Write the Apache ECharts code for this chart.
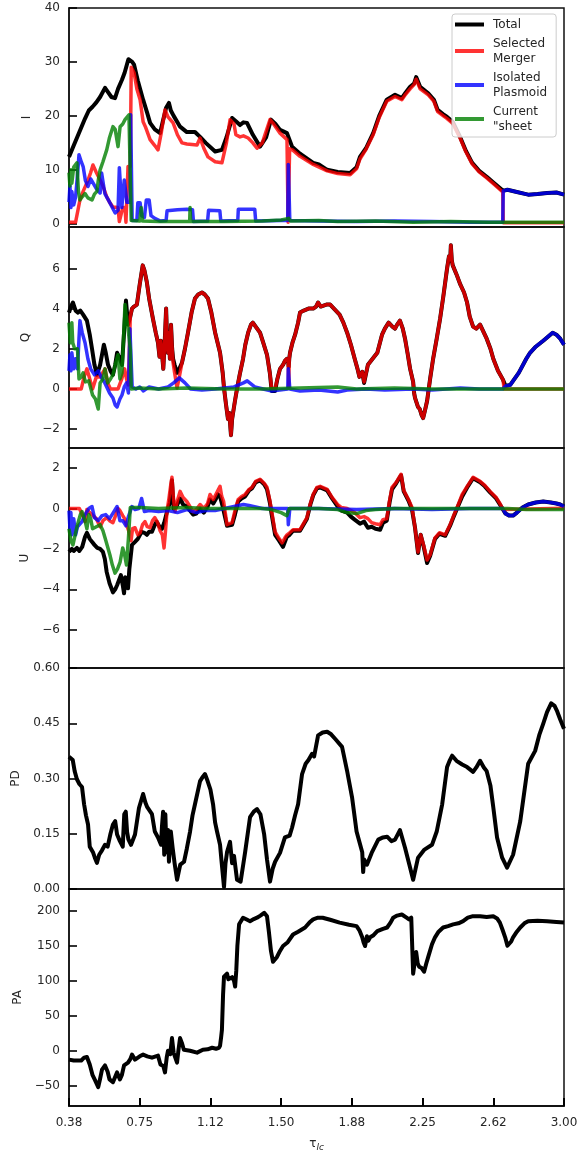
<!DOCTYPE html>
<html><head><meta charset="utf-8">
<script src="https://cdn.jsdelivr.net/npm/echarts@6/dist/echarts.min.js"></script>
<style>html,body{margin:0;padding:0;background:#fff}#c{width:587px;height:1153px}</style>
</head><body><div id="c"></div>
<script>
// ---- data: [tau, value] pairs ----
const xTickLabels = ['0.38','0.75','1.12','1.50','1.88','2.25','2.62','3.00'];
const xTickValues = [0.375,0.75,1.125,1.5,1.875,2.25,2.625,3.0];
const panelNames = ['I','Q','U','PD','PA'];
const seriesNames = ['Total','Selected\nMerger','Isolated\nPlasmoid','Current\n"sheet'];
const I_ticks = [0,10,20,30,40];
const Q_ticks = [-2,0,2,4,6];
const U_ticks = [-6,-4,-2,0,2];
const PD_ticks = [0,0.15,0.30,0.45,0.60];
const PA_ticks = [-50,0,50,100,150,200];

const I_total = [[0.375,12.4],[0.40,14.5],[0.43,17],[0.46,19.5],[0.48,21],[0.50,21.7],[0.52,22.5],[0.54,23.5],[0.566,25.2],[0.58,24.5],[0.60,23.5],[0.619,23.3],[0.635,25],[0.656,26.7],[0.67,28],[0.69,30.5],[0.70,30.8],[0.71,30],[0.72,29.5],[0.74,26.5],[0.768,23],[0.79,20.5],[0.805,18.7],[0.83,17.5],[0.858,16.8],[0.874,19.2],[0.89,21.5],[0.905,22.4],[0.915,21],[0.93,20],[0.964,18],[1.0,17],[1.043,17],[1.07,16.1],[1.10,15],[1.15,13.4],[1.186,13.7],[1.21,16],[1.24,19.6],[1.26,19],[1.282,18.3],[1.30,18.8],[1.319,18.7],[1.35,16.5],[1.388,14.3],[1.42,16],[1.446,19.3],[1.47,18.5],[1.494,17.4],[1.531,16.8],[1.558,14.3],[1.60,13],[1.67,11.3],[1.70,11],[1.744,10],[1.80,9.6],[1.866,9.4],[1.90,10.5],[1.918,12.4],[1.95,14],[1.988,16.8],[2.02,20],[2.06,23],[2.104,23.9],[2.14,23.3],[2.16,24.3],[2.184,25.4],[2.205,26],[2.216,27.2],[2.237,25.4],[2.28,24.2],[2.31,23],[2.33,21.1],[2.36,20.3],[2.38,19.8],[2.41,18.9],[2.45,16],[2.48,13.5],[2.513,11.3],[2.55,9.8],[2.59,8.7],[2.63,7.5],[2.677,6.1],[2.70,6.3],[2.75,5.9],[2.81,5.4],[2.86,5.5],[2.91,5.7],[2.96,5.8],[3.0,5.4]];
const I_merger = [[0.375,0.3],[0.41,0.3],[0.433,4.4],[0.45,6],[0.476,8.1],[0.49,9.5],[0.502,10.9],[0.52,9.5],[0.54,8.1],[0.555,7],[0.575,5],[0.59,4],[0.608,3.1],[0.635,3],[0.642,0.4],[0.652,0.4],[0.66,3],[0.672,3],[0.677,0.3],[0.684,0.3],[0.688,10.6],[0.70,10.6],[0.705,29],[0.72,28],[0.735,25],[0.752,23],[0.768,18.9],[0.78,18],[0.805,15.6],[0.83,14.5],[0.847,13.7],[0.865,17],[0.884,21.1],[0.90,19.8],[0.927,18.7],[0.95,16.5],[0.974,15],[1.0,14.8],[1.054,14.6],[1.07,15.9],[1.09,14],[1.112,12.4],[1.15,11.5],[1.186,11.3],[1.21,15],[1.229,19.3],[1.25,18.5],[1.26,16.5],[1.282,16.1],[1.30,16.3],[1.325,15.9],[1.35,15],[1.372,14],[1.40,15],[1.441,19.3],[1.46,18.5],[1.494,16.8],[1.531,15.6],[1.537,0.3],[1.541,0.3],[1.545,13.9],[1.56,13.7],[1.60,12.5],[1.67,11],[1.744,9.8],[1.80,9.3],[1.866,9.1],[1.90,10.2],[1.918,12],[1.95,13.8],[1.988,16.5],[2.02,19.7],[2.06,22.7],[2.104,23.6],[2.14,23],[2.16,24],[2.184,25],[2.205,25.8],[2.216,26.8],[2.237,25],[2.28,23.9],[2.31,22.7],[2.33,20.8],[2.36,20],[2.38,19.5],[2.41,18.6],[2.45,15.8],[2.48,13.3],[2.513,11.1],[2.55,9.6],[2.59,8.5],[2.63,7.3],[2.675,5.9],[2.678,0.2],[3.0,0.2]];
const I_plasmoid = [[0.375,4],[0.38,7],[0.385,3],[0.39,6],[0.40,3.5],[0.41,5],[0.42,9],[0.428,12.8],[0.44,11.5],[0.45,10.6],[0.462,8],[0.476,6.9],[0.49,8.3],[0.50,8],[0.52,6.5],[0.54,5.7],[0.548,9.4],[0.555,9.4],[0.565,5.6],[0.575,5.6],[0.59,4],[0.605,3],[0.62,2],[0.635,2.5],[0.642,10.4],[0.65,10.4],[0.655,3],[0.665,3],[0.668,8.1],[0.676,8.1],[0.682,4],[0.70,4],[0.702,20.2],[0.707,20.2],[0.71,0.6],[0.735,0.6],[0.74,3.9],[0.752,3.9],[0.76,1.5],[0.775,1.2],[0.785,4.4],[0.80,4.4],[0.81,1.5],[0.83,1.0],[0.86,0.5],[0.89,0.6],[0.895,2.4],[0.95,2.6],[1.00,2.7],[1.03,2.6],[1.035,0.4],[1.11,0.5],[1.115,2.5],[1.175,2.4],[1.18,0.5],[1.27,0.6],[1.273,2.7],[1.36,2.7],[1.365,0.5],[1.50,0.6],[1.535,0.6],[1.538,11],[1.543,11],[1.546,0.6],[1.70,0.5],[1.90,0.4],[2.10,0.5],[2.30,0.4],[2.50,0.3],[2.675,0.3],[2.678,6.1],[2.70,6.3],[2.75,5.9],[2.81,5.4],[2.86,5.5],[2.91,5.7],[2.96,5.8],[3.0,5.4]];
const I_sheet = [[0.375,9.5],[0.38,7],[0.385,10],[0.39,7.5],[0.40,10.5],[0.417,11.3],[0.425,6],[0.433,4.4],[0.445,5],[0.46,5.6],[0.475,4.8],[0.497,4.4],[0.51,5.5],[0.523,6],[0.53,8],[0.54,10],[0.555,11.5],[0.575,13.7],[0.59,16],[0.608,18],[0.62,17.5],[0.635,14.3],[0.646,18],[0.66,18.5],[0.672,19.3],[0.693,20.2],[0.70,20],[0.705,0.6],[0.75,0.5],[0.758,3],[0.765,0.5],[0.85,0.4],[1.0,0.4],[1.015,0.4],[1.017,3],[1.02,0.4],[1.20,0.4],[1.40,0.5],[1.50,0.7],[1.54,1.0],[1.55,0.5],[1.70,0.6],[1.80,0.4],[2.0,0.5],[2.2,0.3],[2.4,0.4],[2.6,0.3],[2.8,0.3],[3.0,0.3]];

const Q_total = [[0.375,3.8],[0.385,4.1],[0.396,4.3],[0.41,3.9],[0.423,3.8],[0.435,3.9],[0.45,3.7],[0.47,3.4],[0.485,2.7],[0.497,2.0],[0.51,1.2],[0.523,0.7],[0.54,1.2],[0.56,2.2],[0.57,1.8],[0.582,1.2],[0.595,0.9],[0.608,0.7],[0.62,1.2],[0.63,1.8],[0.645,1.5],[0.656,1.2],[0.665,2.5],[0.677,4.4],[0.688,3.2],[0.70,3.6],[0.709,4.0],[0.72,4.1],[0.735,4.2],[0.75,5.2],[0.766,6.15],[0.775,5.9],[0.788,5.3],[0.80,4.5],[0.82,3.5],[0.835,2.8],[0.847,2.3],[0.855,1.6],[0.862,2.4],[0.868,1.8],[0.875,1.0],[0.882,2.2],[0.89,4.0],[0.895,2.5],[0.90,1.8],[0.905,2.8],[0.91,1.5],[0.916,3.2],[0.922,2.0],[0.927,1.5],[0.935,1.2],[0.948,0.8],[0.96,1.0],[0.974,1.3],[0.99,2.0],[1.006,2.8],[1.025,3.8],[1.043,4.5],[1.06,4.7],[1.08,4.8],[1.095,4.7],[1.112,4.5],[1.13,3.8],[1.14,3.3],[1.15,2.8],[1.163,2.3],[1.176,1.8],[1.19,0.8],[1.197,0.05],[1.208,-0.8],[1.218,-1.5],[1.225,-1.2],[1.234,-2.3],[1.24,-1.5],[1.245,-1.2],[1.255,-0.6],[1.266,0],[1.28,0.7],[1.298,1.5],[1.31,2.2],[1.325,2.8],[1.34,3.2],[1.35,3.3],[1.365,3.1],[1.388,2.8],[1.405,2.3],[1.425,1.7],[1.44,0.8],[1.45,-0.1],[1.468,-0.1],[1.48,0.5],[1.494,1.0],[1.51,1.2],[1.52,1.4],[1.53,1.5],[1.537,1.4],[1.54,1.1],[1.543,1.5],[1.547,1.8],[1.56,2.3],[1.574,2.7],[1.59,3.3],[1.60,3.8],[1.62,3.9],[1.645,4.0],[1.67,4.0],[1.685,4.1],[1.696,4.3],[1.71,4.1],[1.72,4.1],[1.74,4.2],[1.76,4.2],[1.785,3.95],[1.81,3.7],[1.83,3.3],[1.85,2.8],[1.87,2.2],[1.89,1.5],[1.905,1.0],[1.915,0.6],[1.93,0.85],[1.94,0.3],[1.96,1.2],[1.985,1.5],[2.01,1.8],[2.035,2.7],[2.05,3.0],[2.07,3.3],[2.09,3.1],[2.104,3.0],[2.115,3.2],[2.13,3.4],[2.145,3.0],[2.157,2.5],[2.17,1.8],[2.184,1.0],[2.2,0.35],[2.205,-0.2],[2.21,-0.45],[2.218,-0.5],[2.226,-0.9],[2.235,-1.0],[2.245,-1.3],[2.253,-1.45],[2.262,-1.1],[2.274,-0.6],[2.29,0.5],[2.306,1.5],[2.325,2.5],[2.343,3.5],[2.36,4.6],[2.38,6.0],[2.39,6.6],[2.397,6.5],[2.4,7.15],[2.405,6.4],[2.41,6.15],[2.43,5.7],[2.45,5.2],[2.47,4.8],[2.486,4.3],[2.50,3.6],[2.518,3.1],[2.535,3.0],[2.555,3.2],[2.57,2.9],[2.59,2.5],[2.61,2.0],[2.625,1.5],[2.65,0.9],[2.677,0.45],[2.69,0.15],[2.70,0.1],[2.715,0.2],[2.76,0.8],[2.80,1.5],[2.82,1.8],[2.85,2.1],[2.89,2.4],[2.915,2.6],[2.94,2.8],[2.96,2.7],[2.98,2.5],[3.0,2.2]];
const Q_merger = [[0.375,0],[0.44,0],[0.455,0.6],[0.47,1.0],[0.485,0.5],[0.50,0],[0.52,0.6],[0.54,0.6],[0.566,1.0],[0.58,0.3],[0.595,0],[0.635,0],[0.655,0.5],[0.67,1.0],[0.68,0.5],[0.69,0.2],[0.70,3.6],[0.709,4.0],[0.72,4.1],[0.735,4.2],[0.75,5.2],[0.766,6.15],[0.775,5.9],[0.788,5.3],[0.80,4.5],[0.82,3.5],[0.835,2.8],[0.847,2.3],[0.855,1.6],[0.862,2.4],[0.868,1.8],[0.875,1.0],[0.882,2.2],[0.89,4.0],[0.895,2.5],[0.90,1.8],[0.905,2.8],[0.91,1.5],[0.916,3.2],[0.922,2.0],[0.927,1.3],[0.935,0.8],[0.948,0.05],[0.96,0.6],[0.974,1.3],[0.99,2.0],[1.006,2.8],[1.025,3.8],[1.043,4.5],[1.06,4.7],[1.08,4.8],[1.095,4.7],[1.112,4.5],[1.13,3.8],[1.14,3.3],[1.15,2.8],[1.163,2.3],[1.176,1.8],[1.19,0.8],[1.197,0.05],[1.208,-0.8],[1.218,-1.5],[1.225,-1.2],[1.234,-2.3],[1.24,-1.5],[1.245,-1.2],[1.255,-0.6],[1.266,0],[1.28,0.7],[1.298,1.5],[1.31,2.2],[1.325,2.8],[1.34,3.2],[1.35,3.3],[1.365,3.1],[1.388,2.8],[1.405,2.3],[1.425,1.7],[1.44,0.8],[1.45,0],[1.468,0],[1.48,0.5],[1.494,1.0],[1.51,1.2],[1.52,1.4],[1.53,1.5],[1.537,1.4],[1.54,0.1],[1.543,1.5],[1.547,1.8],[1.56,2.3],[1.574,2.7],[1.59,3.3],[1.60,3.8],[1.62,3.9],[1.645,4.0],[1.67,4.0],[1.685,4.1],[1.696,4.3],[1.71,4.1],[1.72,4.1],[1.74,4.2],[1.76,4.2],[1.785,3.95],[1.81,3.7],[1.83,3.3],[1.85,2.8],[1.87,2.2],[1.89,1.5],[1.905,1.0],[1.915,0.6],[1.93,0.85],[1.94,0.35],[1.96,1.2],[1.985,1.5],[2.01,1.8],[2.035,2.7],[2.05,3.0],[2.07,3.3],[2.09,3.1],[2.104,3.0],[2.115,3.2],[2.13,3.4],[2.145,3.0],[2.157,2.5],[2.17,1.8],[2.184,1.0],[2.2,0.35],[2.205,-0.2],[2.21,-0.45],[2.218,-0.5],[2.226,-0.9],[2.235,-1.0],[2.245,-1.3],[2.253,-1.45],[2.262,-1.1],[2.274,-0.6],[2.29,0.5],[2.306,1.5],[2.325,2.5],[2.343,3.5],[2.36,4.6],[2.38,6.0],[2.39,6.6],[2.397,6.5],[2.4,7.15],[2.405,6.4],[2.41,6.15],[2.43,5.7],[2.45,5.2],[2.47,4.8],[2.486,4.3],[2.50,3.6],[2.518,3.1],[2.535,3.0],[2.555,3.2],[2.57,2.9],[2.59,2.5],[2.61,2.0],[2.625,1.5],[2.65,0.9],[2.677,0.45],[2.682,0],[3.0,0]];
const Q_plasmoid = [[0.375,0.9],[0.38,1.7],[0.385,0.9],[0.39,1.8],[0.40,1.0],[0.41,1.5],[0.42,1.0],[0.428,2.5],[0.433,3.4],[0.445,2.8],[0.46,2.3],[0.475,1.5],[0.49,1.0],[0.51,0.7],[0.53,0.9],[0.545,0.6],[0.56,0.4],[0.575,0.1],[0.59,-0.2],[0.608,-0.45],[0.62,-0.8],[0.63,-0.9],[0.645,-0.5],[0.656,-0.3],[0.668,0.1],[0.68,0.3],[0.69,-0.2],[0.698,3.0],[0.704,3.0],[0.71,0.1],[0.73,0.0],[0.75,0.1],[0.77,-0.1],[0.80,0.1],[0.85,0.0],[0.90,0.1],[0.93,0.3],[0.96,0.55],[0.99,0.3],[1.02,0.0],[1.08,-0.05],[1.15,0.0],[1.25,0.1],[1.30,0.3],[1.32,0.4],[1.36,0.1],[1.45,-0.1],[1.535,0],[1.538,1.0],[1.543,1.0],[1.546,0],[1.60,-0.1],[1.70,-0.05],[1.80,-0.15],[1.85,-0.05],[1.95,0],[2.05,-0.05],[2.2,0],[2.3,-0.05],[2.45,0.05],[2.55,0],[2.675,0],[2.69,0.15],[2.70,0.1],[2.715,0.2],[2.76,0.8],[2.80,1.5],[2.82,1.8],[2.85,2.1],[2.89,2.4],[2.915,2.6],[2.94,2.8],[2.96,2.7],[2.98,2.5],[3.0,2.2]];
const Q_sheet = [[0.375,3.3],[0.382,2.3],[0.39,3.3],[0.395,2.3],[0.405,2.0],[0.42,2.0],[0.428,0.5],[0.44,0.6],[0.45,0.8],[0.462,0.35],[0.48,0.4],[0.50,-0.3],[0.515,-0.5],[0.53,-1.0],[0.54,0.3],[0.555,0.5],[0.566,1.0],[0.58,0.3],[0.595,0.5],[0.608,0.7],[0.62,1.2],[0.635,1.7],[0.645,0.5],[0.656,0.8],[0.672,4.2],[0.68,3.5],[0.688,3.0],[0.70,2.0],[0.705,0.0],[0.75,0.05],[0.85,0],[1.0,0.05],[1.2,0],[1.4,0],[1.6,0.05],[1.8,0.1],[1.9,0],[2.1,0.05],[2.3,0],[2.5,0],[2.7,0],[3.0,0]];

const U_total = [[0.375,-2.15],[0.39,-2.0],[0.40,-2.1],[0.417,-1.95],[0.43,-2.1],[0.445,-1.9],[0.46,-1.4],[0.47,-1.2],[0.485,-1.5],[0.497,-1.65],[0.51,-1.8],[0.525,-1.95],[0.54,-2.0],[0.555,-2.15],[0.565,-2.5],[0.575,-3.15],[0.59,-3.7],[0.608,-4.15],[0.62,-4.0],[0.63,-3.8],[0.65,-3.3],[0.66,-3.8],[0.667,-4.2],[0.673,-3.4],[0.68,-3.6],[0.688,-3.95],[0.695,-3.0],[0.709,-1.8],[0.725,-1.65],[0.74,-1.5],[0.76,-1.15],[0.775,-1.2],[0.788,-1.3],[0.80,-1.15],[0.815,-1.15],[0.83,-0.8],[0.84,-0.65],[0.855,-0.9],[0.868,-1.0],[0.88,-0.7],[0.895,-0.15],[0.91,0.3],[0.921,1.4],[0.93,0.0],[0.945,0.1],[0.964,0.5],[0.98,0.2],[1.0,0.1],[1.033,-0.3],[1.05,-0.25],[1.07,0.0],[1.09,-0.2],[1.11,0.1],[1.123,0.45],[1.14,0.25],[1.155,0.5],[1.165,0.7],[1.176,0.6],[1.19,0.1],[1.213,-0.85],[1.24,-0.8],[1.255,-0.3],[1.272,0.35],[1.29,0.5],[1.309,0.6],[1.33,0.9],[1.345,1.0],[1.365,1.3],[1.388,1.4],[1.41,1.2],[1.425,0.95],[1.44,0.3],[1.45,-0.3],[1.468,-1.3],[1.49,-1.6],[1.51,-1.9],[1.53,-1.4],[1.545,-1.3],[1.563,-1.1],[1.6,-1.1],[1.637,-0.5],[1.655,0.2],[1.67,0.65],[1.69,1.0],[1.707,1.05],[1.744,0.9],[1.77,0.5],[1.80,0.1],[1.82,-0.1],[1.85,-0.2],[1.87,-0.4],[1.89,-0.55],[1.918,-0.75],[1.94,-0.65],[1.96,-0.95],[1.98,-0.9],[2.0,-1.0],[2.025,-1.05],[2.04,-0.7],[2.06,-0.6],[2.075,0.3],[2.088,0.95],[2.11,1.25],[2.136,1.65],[2.15,0.85],[2.175,0.4],[2.194,-0.05],[2.21,-0.95],[2.226,-2.2],[2.24,-1.3],[2.255,-1.85],[2.274,-2.7],[2.29,-2.35],[2.316,-1.5],[2.34,-1.25],[2.37,-1.35],[2.396,-0.85],[2.415,-0.4],[2.433,0.0],[2.46,0.6],[2.49,1.1],[2.518,1.5],[2.555,1.3],[2.58,1.1],[2.608,0.8],[2.64,0.5],[2.66,0.2],[2.677,-0.05],[2.69,-0.25],[2.71,-0.35],[2.73,-0.35],[2.75,-0.2],[2.78,0.05],[2.81,0.2],[2.85,0.3],[2.89,0.35],[2.93,0.3],[2.96,0.25],[2.98,0.2],[3.0,0.1]];
const U_merger = [[0.375,0],[0.43,0],[0.445,-0.3],[0.46,-0.65],[0.47,-0.05],[0.485,-0.2],[0.497,-0.3],[0.52,-0.5],[0.54,-0.9],[0.555,-0.6],[0.575,-0.45],[0.59,-0.6],[0.608,-0.7],[0.62,-0.4],[0.635,0],[0.645,-0.1],[0.66,-0.35],[0.67,-0.5],[0.68,-0.8],[0.695,-1.2],[0.704,-1.6],[0.712,-1.0],[0.725,-0.95],[0.74,-1.3],[0.752,-1.2],[0.765,-0.8],[0.778,-0.65],[0.79,-0.9],[0.805,-0.95],[0.818,-0.6],[0.83,-0.45],[0.845,-0.7],[0.858,-1.1],[0.87,-1.3],[0.879,-1.95],[0.886,-1.2],[0.895,-0.1],[0.905,0.5],[0.915,1.2],[0.921,1.55],[0.928,0.6],[0.937,-0.15],[0.95,0.4],[0.964,0.85],[0.98,0.55],[1.0,0.35],[1.033,-0.15],[1.05,-0.05],[1.07,0.2],[1.09,0.0],[1.11,0.25],[1.123,0.7],[1.14,0.45],[1.15,0.4],[1.165,0.9],[1.176,1.1],[1.185,0.6],[1.195,0.35],[1.213,-0.8],[1.24,-0.7],[1.255,-0.1],[1.272,0.45],[1.29,0.6],[1.309,0.7],[1.33,0.95],[1.345,1.05],[1.365,1.35],[1.388,1.45],[1.41,1.25],[1.425,1.05],[1.44,0.4],[1.45,-0.15],[1.468,-1.15],[1.49,-1.5],[1.505,-1.7],[1.52,-1.45],[1.531,-1.3],[1.545,-1.2],[1.563,-1.05],[1.6,-1.05],[1.637,-0.45],[1.655,0.25],[1.67,0.7],[1.69,1.05],[1.707,1.1],[1.744,0.95],[1.77,0.55],[1.80,0.2],[1.82,0.05],[1.85,0],[1.87,-0.1],[1.89,-0.2],[1.918,-0.45],[1.94,-0.4],[1.96,-0.5],[1.98,-0.7],[2.0,-0.75],[2.025,-0.8],[2.04,-0.55],[2.06,-0.5],[2.075,0.4],[2.088,1.05],[2.11,1.3],[2.136,1.7],[2.15,0.9],[2.175,0.45],[2.194,0.05],[2.21,-0.95],[2.226,-2.15],[2.24,-1.3],[2.255,-1.8],[2.274,-2.55],[2.29,-2.3],[2.316,-1.45],[2.34,-1.2],[2.37,-1.3],[2.396,-0.8],[2.415,-0.35],[2.433,0.05],[2.46,0.7],[2.49,1.15],[2.518,1.55],[2.555,1.35],[2.58,1.15],[2.608,0.85],[2.64,0.55],[2.66,0.25],[2.677,-0.05],[2.682,0.02],[3.0,0.02]];
const U_plasmoid = [[0.375,-0.1],[0.38,-1.0],[0.385,-0.2],[0.39,-1.3],[0.40,-0.5],[0.41,-1.3],[0.42,-0.9],[0.444,-0.65],[0.46,-0.3],[0.48,0.0],[0.497,0.1],[0.51,-0.45],[0.53,-0.6],[0.55,-0.35],[0.57,-0.3],[0.59,-0.5],[0.61,-0.2],[0.63,0.1],[0.645,-0.6],[0.66,-0.6],[0.677,-0.85],[0.69,-0.4],[0.709,0.1],[0.725,-0.05],[0.745,0.0],[0.76,0.5],[0.775,-0.15],[0.80,-0.1],[0.85,-0.15],[0.90,-0.1],[0.95,-0.2],[1.0,-0.05],[1.05,-0.2],[1.1,-0.1],[1.15,-0.1],[1.2,0.0],[1.25,0.1],[1.3,0.2],[1.33,0.15],[1.4,0.0],[1.5,0.0],[1.535,0],[1.538,-0.8],[1.543,-0.8],[1.546,0],[1.7,0.0],[1.9,-0.05],[2.1,0.0],[2.3,-0.05],[2.5,0.0],[2.675,0.0],[2.69,-0.25],[2.71,-0.35],[2.73,-0.35],[2.75,-0.2],[2.78,0.05],[2.81,0.2],[2.85,0.3],[2.89,0.35],[2.93,0.3],[2.96,0.25],[2.98,0.2],[3.0,0.1]];
const U_sheet = [[0.375,-1.0],[0.385,-1.6],[0.396,-1.8],[0.41,-1.2],[0.42,-0.8],[0.435,-0.3],[0.444,-0.15],[0.46,-0.6],[0.47,-1.0],[0.48,-0.3],[0.49,-0.5],[0.50,-1.0],[0.52,-0.9],[0.54,-0.8],[0.555,-1.1],[0.566,-1.45],[0.58,-1.9],[0.592,-2.3],[0.605,-2.8],[0.619,-3.2],[0.632,-3.0],[0.646,-2.65],[0.66,-1.95],[0.67,-2.3],[0.68,-2.8],[0.69,-1.5],[0.70,0.05],[0.75,0.05],[0.85,0.0],[1.0,0.05],[1.1,0.0],[1.2,0.0],[1.3,0.0],[1.4,0.0],[1.45,-0.05],[1.5,-0.2],[1.53,-0.35],[1.54,-0.4],[1.543,0.0],[1.6,0.0],[1.7,0.0],[1.8,-0.05],[1.85,-0.2],[1.9,-0.25],[1.95,-0.1],[2.0,-0.05],[2.1,0.0],[2.3,0.0],[2.5,0.0],[2.7,0.0],[2.8,-0.05],[3.0,-0.05]];

const PD_total = [[0.375,0.359],[0.385,0.355],[0.395,0.35],[0.405,0.32],[0.417,0.298],[0.43,0.285],[0.444,0.277],[0.455,0.23],[0.465,0.2],[0.476,0.175],[0.485,0.115],[0.502,0.1],[0.512,0.085],[0.523,0.071],[0.535,0.093],[0.55,0.105],[0.566,0.12],[0.58,0.115],[0.595,0.15],[0.608,0.175],[0.62,0.184],[0.63,0.148],[0.645,0.13],[0.66,0.115],[0.668,0.203],[0.676,0.21],[0.683,0.155],[0.69,0.135],[0.704,0.12],[0.725,0.148],[0.746,0.22],[0.768,0.258],[0.78,0.235],[0.79,0.222],[0.815,0.203],[0.83,0.156],[0.847,0.14],[0.863,0.12],[0.868,0.17],[0.874,0.21],[0.88,0.093],[0.886,0.203],[0.892,0.1],[0.9,0.16],[0.905,0.074],[0.915,0.156],[0.925,0.11],[0.935,0.07],[0.948,0.025],[0.965,0.066],[0.985,0.074],[1.0,0.11],[1.017,0.156],[1.03,0.2],[1.043,0.23],[1.07,0.293],[1.085,0.305],[1.096,0.312],[1.11,0.293],[1.125,0.27],[1.139,0.23],[1.15,0.18],[1.16,0.156],[1.176,0.12],[1.185,0.07],[1.197,0.005],[1.205,0.07],[1.213,0.1],[1.229,0.128],[1.24,0.07],[1.25,0.09],[1.266,0.025],[1.285,0.02],[1.3,0.07],[1.309,0.1],[1.335,0.195],[1.355,0.21],[1.372,0.217],[1.39,0.203],[1.41,0.148],[1.425,0.08],[1.441,0.02],[1.455,0.055],[1.468,0.074],[1.494,0.098],[1.52,0.14],[1.545,0.145],[1.558,0.167],[1.574,0.2],[1.59,0.23],[1.611,0.312],[1.63,0.34],[1.645,0.35],[1.664,0.367],[1.675,0.36],[1.696,0.417],[1.72,0.425],[1.744,0.427],[1.765,0.42],[1.786,0.408],[1.823,0.386],[1.85,0.32],[1.876,0.249],[1.9,0.156],[1.93,0.1],[1.935,0.046],[1.94,0.08],[1.955,0.066],[1.98,0.098],[2.015,0.134],[2.04,0.14],[2.062,0.142],[2.085,0.13],[2.104,0.134],[2.13,0.16],[2.157,0.112],[2.184,0.058],[2.2,0.025],[2.226,0.085],[2.26,0.107],[2.3,0.12],[2.325,0.156],[2.354,0.23],[2.38,0.331],[2.395,0.35],[2.407,0.362],[2.43,0.348],[2.46,0.338],[2.486,0.331],[2.518,0.318],[2.535,0.33],[2.555,0.348],[2.575,0.33],[2.59,0.32],[2.61,0.28],[2.625,0.222],[2.645,0.14],[2.672,0.085],[2.698,0.058],[2.73,0.093],[2.768,0.184],[2.81,0.34],[2.847,0.375],[2.87,0.42],[2.89,0.449],[2.91,0.48],[2.932,0.504],[2.95,0.497],[2.964,0.482],[2.98,0.46],[3.0,0.435]];
const PA_total = [[0.375,-12.7],[0.40,-14],[0.44,-14],[0.455,-10],[0.47,-9],[0.485,-19.7],[0.50,-35],[0.513,-42],[0.53,-52],[0.54,-40],[0.55,-27],[0.566,-21],[0.58,-30],[0.59,-41],[0.608,-45],[0.63,-31],[0.645,-41],[0.655,-35],[0.667,-21],[0.688,-17],[0.70,-12],[0.709,-5.6],[0.725,-12.7],[0.75,-8],[0.768,-5.6],[0.79,-8],[0.815,-9.9],[0.835,-8],[0.847,-7],[0.86,-19.7],[0.875,-22],[0.884,-31],[0.893,-10],[0.9,0],[0.912,-5],[0.921,18],[0.93,-3],[0.935,-7],[0.948,-17],[0.955,0],[0.964,18],[0.975,10],[0.984,1.4],[1.017,0],[1.054,-2.8],[1.085,1.4],[1.11,2],[1.134,4.2],[1.155,2.8],[1.17,4],[1.176,7],[1.182,20],[1.186,30],[1.192,80],[1.197,105.8],[1.213,110],[1.22,102],[1.23,100],[1.24,105],[1.25,100],[1.256,91.7],[1.262,114],[1.268,150],[1.277,180.5],[1.298,190],[1.32,187],[1.335,185],[1.355,188],[1.372,190],[1.39,193],[1.41,197],[1.425,192],[1.435,170],[1.446,142.5],[1.457,127],[1.478,134],[1.494,142.5],[1.51,149.5],[1.535,155],[1.563,166],[1.59,170],[1.627,176],[1.65,183],[1.67,187.6],[1.695,190],[1.72,190],[1.76,187],[1.81,183],[1.86,180],[1.9,178],[1.915,172],[1.93,162],[1.937,155],[1.945,149.5],[1.955,163.6],[1.962,157],[1.972,162],[1.99,165],[2.01,170.7],[2.04,174],[2.062,176],[2.08,183],[2.094,190],[2.115,193],[2.14,194.6],[2.165,190],[2.178,187.6],[2.19,190],[2.195,150],[2.2,110],[2.208,112],[2.216,141],[2.224,125],[2.232,120],[2.245,118],[2.258,112.8],[2.27,125],[2.28,134],[2.3,152],[2.316,162],[2.335,170],[2.359,176],[2.385,178],[2.412,180.5],[2.44,182],[2.465,185],[2.49,190],[2.513,192],[2.555,192],[2.59,191],[2.625,192],[2.645,189],[2.66,183],[2.675,172],[2.688,162],[2.70,150],[2.71,148],[2.72,156],[2.73,162],[2.75,170],[2.768,176],[2.79,182],[2.81,185],[2.86,185.5],[2.91,185],[2.96,184],[3.0,183]];

// ---- layout / style ----
const FONT = 'DejaVu Sans';
const TXT = '#262626';
const colors = ['#000000','rgba(255,0,0,0.8)','rgba(0,0,255,0.8)','rgba(0,128,0,0.8)'];
const widths = [4,3.5,3.5,3.5];
const panels = [
  {top:8,   height:219, min:-0.6, max:40,   ticks:I_ticks,  gap:36, fmt:v=>String(v)},
  {top:227, height:221, min:-2.94,max:8.06, ticks:Q_ticks,  gap:37, fmt:v=>String(v)},
  {top:448, height:220, min:-7.9, max:3.0,  ticks:U_ticks,  gap:38, fmt:v=>String(v)},
  {top:668, height:221, min:0,    max:0.6,  ticks:PD_ticks, gap:47, fmt:v=>v.toFixed(2)},
  {top:889, height:220, min:-79,  max:231,  ticks:PA_ticks, gap:45, fmt:v=>String(v)}
];
const panelData = [
  [I_total, I_merger, I_plasmoid, I_sheet],
  [Q_total, Q_merger, Q_plasmoid, Q_sheet],
  [U_total, U_merger, U_plasmoid, U_sheet],
  [PD_total],
  [PA_total]
];
const minus = s => s.replace('-', '\u2212');

const grid = [], xAxis = [], yAxis = [], series = [];
panels.forEach((p, i) => {
  grid.push({left:69, right:23, top:p.top, height:p.height, show:true,
    borderColor:'#111', borderWidth:1.5});
  const last = i === panels.length - 1;
  const xa = {type:'value', gridIndex:i, position:'bottom', min:0.375, max:3.0,
    axisLine:{show:true, onZero:false, lineStyle:{color:'#111', width:1.5}}, splitLine:{show:false},
    axisTick:{show:last, inside:true, length:8, customValues:xTickValues, lineStyle:{color:'#000', width:2}},
    axisLabel:{show:last, customValues:xTickValues, margin:11, color:TXT, fontFamily:FONT, fontSize:12,
      formatter: v => xTickLabels[Math.round((v - 0.375) / 0.375)]}
  };
  if (last) {
    xa.name = '{t|\u03c4}{s|lc}';
    xa.nameLocation = 'middle';
    xa.nameGap = 30;
    xa.nameTextStyle = {rich:{t:{fontFamily:FONT, fontSize:12, color:TXT},
      s:{fontFamily:FONT, fontSize:9, fontStyle:'italic', color:TXT, padding:[7,0,0,0]}}};
  }
  xAxis.push(xa);
  yAxis.push({type:'value', gridIndex:i, position:'left', min:p.min, max:p.max,
    axisLine:{show:true, onZero:false, lineStyle:{color:'#111', width:1.5}}, splitLine:{show:false},
    axisTick:{show:true, inside:true, length:8, customValues:p.ticks, lineStyle:{color:'#000', width:1.6}},
    axisLabel:{customValues:p.ticks, margin:9, color:TXT, fontFamily:FONT, fontSize:12,
      formatter: v => minus(p.fmt(v))},
    name: panelNames[i], nameLocation:'middle', nameGap:p.gap, nameRotate:90,
    nameTextStyle:{color:TXT, fontFamily:FONT, fontSize:12}
  });
  panelData[i].forEach((d, k) => {
    series.push({type:'line', name:seriesNames[k], xAxisIndex:i, yAxisIndex:i,
      data:d, symbol:'none', showSymbol:false, color:colors[k],
      lineStyle:{color:colors[k], width:widths[k], join:'round'},
      z: 2 + k, animation:false, clip:true});
  });
});
// extra bare axis on the bottom panel, used only to draw the inward x ticks
xAxis.push({type:'value', gridIndex:4, position:'bottom', min:0.375, max:3.0,
  axisLine:{show:true, onZero:false, lineStyle:{color:'#111', width:1.5}}, splitLine:{show:false},
  axisTick:{show:true, inside:true, length:8, customValues:xTickValues, lineStyle:{color:'#000', width:1.8}},
  axisLabel:{show:true, customValues:xTickValues, formatter: () => ''}});

const chart = echarts.init(document.getElementById('c'), null, {renderer:'canvas'});
chart.setOption({
  animation:false,
  backgroundColor:'#fff',
  grid, xAxis, yAxis, series,
  legend:{
    data: seriesNames.map(n => ({name:n, icon:'rect'})),
    orient:'vertical', left:452, top:14, itemWidth:29, itemHeight:4, itemGap:4,
    padding:[3,9,3,3], borderColor:'#cccccc', borderWidth:1, borderRadius:3,
    backgroundColor:'rgba(255,255,255,0.8)', selectedMode:false,
    textStyle:{fontFamily:FONT, fontSize:12, color:TXT, lineHeight:15, padding:[0,0,0,4]}
  }
});
</script></body></html>
